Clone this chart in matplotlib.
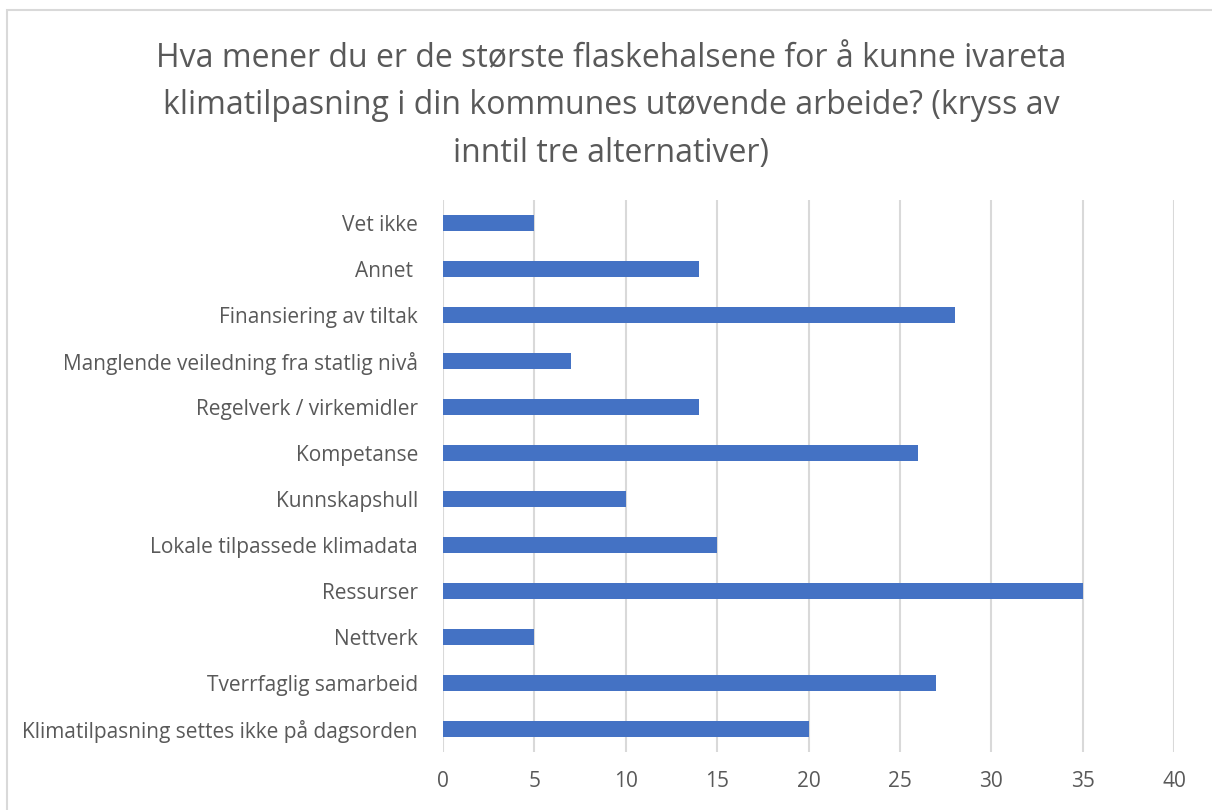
import matplotlib
matplotlib.use("Agg")
import matplotlib.pyplot as plt
from matplotlib.patches import Rectangle

plt.rcParams["font.family"] = ["Open Sans", "DejaVu Sans"]

# Kategorier (fra bunn til topp) og antall svar
kategorier = [
    "Klimatilpasning settes ikke på dagsorden",
    "Tverrfaglig samarbeid",
    "Nettverk",
    "Ressurser",
    "Lokale tilpassede klimadata",
    "Kunnskapshull",
    "Kompetanse",
    "Regelverk / virkemidler",
    "Manglende veiledning fra statlig nivå",
    "Finansiering av tiltak",
    "Annet ",
    "Vet ikke",
]
antall = [20, 27, 5, 35, 15, 10, 26, 14, 7, 28, 14, 5]
xticks = [0, 5, 10, 15, 20, 25, 30, 35, 40]

tittel = ("Hva mener du er de største flaskehalsene for å kunne ivareta\n"
          "klimatilpasning i din kommunes utøvende arbeide? (kryss av\n"
          "inntil tre alternativer)")

tekstfarge = "#595959"
gridfarge = "#D9D9D9"

fig = plt.figure(figsize=(12.12, 8.1), dpi=100)
ax = fig.add_axes([443 / 1212, 1 - 752 / 810, 731 / 1212, 552 / 810])

# Ramme rundt diagrammet
fig.patches.append(Rectangle((6.5 / 1212, -0.01), 1.02, 1 - 9.5 / 810 + 0.01,
                             transform=fig.transFigure, fill=False,
                             edgecolor=gridfarge, linewidth=1.5))

ax.barh(range(len(kategorier)), antall, height=0.36, color="#4472C4", zorder=3)

ax.set_xlim(0, 40)
ax.set_ylim(-0.5, len(kategorier) - 0.5)
ax.set_xticks(xticks)
ax.set_yticks(range(len(kategorier)))
ax.set_yticklabels(kategorier)
ax.tick_params(axis="both", length=0, colors=tekstfarge, labelsize=15)
ax.tick_params(axis="x", pad=14)
ax.tick_params(axis="y", pad=18)
ax.grid(axis="x", color=gridfarge, linewidth=1.5, zorder=0)
for s in ax.spines.values():
    s.set_visible(False)

fig.text(611 / 1212, 1 - 42 / 810, tittel, ha="center", va="top",
         fontsize=23, color=tekstfarge, linespacing=1.58)

fig.savefig("out.png", dpi=100)
